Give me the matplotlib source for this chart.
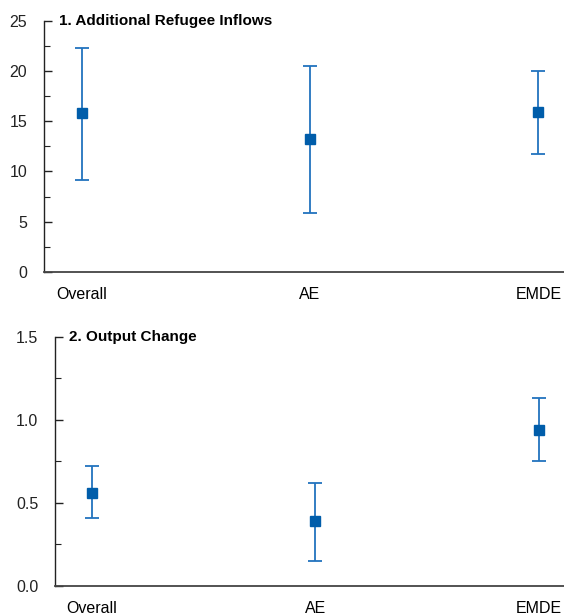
import numpy as np
from matplotlib import pyplot as plt

plt.rcParams['font.family'] = ['Liberation Sans Narrow', 'Liberation Sans', 'DejaVu Sans']

# Data
categories = ['Overall', 'AE', 'EMDE']

inflow_mid = [15.8, 13.2, 15.9]
inflow_low = [9.1, 5.9, 11.7]
inflow_high = [22.3, 20.5, 20.0]

output_mid = [0.56, 0.39, 0.94]
output_low = [0.41, 0.15, 0.75]
output_high = [0.72, 0.62, 1.13]

marker_color = '#005DAA'
line_color = '#2273BE'

fig = plt.figure(figsize=(5.64, 6.15), dpi=100)
ax1 = fig.add_axes([0.078, 0.558, 0.922, 0.408])
ax2 = fig.add_axes([0.0975, 0.0476, 0.9025, 0.405])


def draw_panel(ax, mid, low, high, ylim, major, minor, fmt, title):
    x = np.arange(len(categories))
    mid = np.array(mid)
    err = [mid - np.array(low), np.array(high) - mid]
    ax.errorbar(x, mid, yerr=err, fmt='none', ecolor=line_color,
                elinewidth=1.3, capsize=5, capthick=1.3, zorder=2)
    ax.plot(x, mid, 's', color=marker_color, markersize=7.5, zorder=3)

    ax.set_xlim(-0.165, 2.112)
    ax.set_ylim(*ylim)
    ax.set_xticks(x)
    ax.set_xticklabels(categories)
    ax.set_yticks(major)
    ax.set_yticks(minor, minor=True)
    ax.set_yticklabels([fmt.format(v) for v in major])

    for side in ['top', 'right']:
        ax.spines[side].set_visible(False)
    ax.spines['left'].set_color('#222222')
    ax.spines['bottom'].set_color('#444444')
    ax.spines['left'].set_linewidth(1.0)
    ax.spines['bottom'].set_linewidth(1.3)

    ax.tick_params(axis='y', which='major', direction='in', length=6,
                   width=1, pad=12, labelsize=11.5, colors='#222222')
    ax.tick_params(axis='y', which='minor', direction='in', length=4,
                   width=0.8, colors='#222222')
    ax.tick_params(axis='x', length=0, pad=11, labelsize=11.5)

    ax.text(0.028, 1.0, title, transform=ax.transAxes, fontsize=11,
            fontweight='bold', va='center', ha='left')


draw_panel(ax1, inflow_mid, inflow_low, inflow_high, (0, 25),
           np.arange(0, 26, 5), np.arange(2.5, 25, 5), '{:.0f}',
           '1. Additional Refugee Inflows')
draw_panel(ax2, output_mid, output_low, output_high, (0, 1.5),
           np.arange(0, 1.51, 0.5), np.arange(0.25, 1.5, 0.5), '{:.1f}',
           '2. Output Change')

fig.savefig('out.png', dpi=100)
